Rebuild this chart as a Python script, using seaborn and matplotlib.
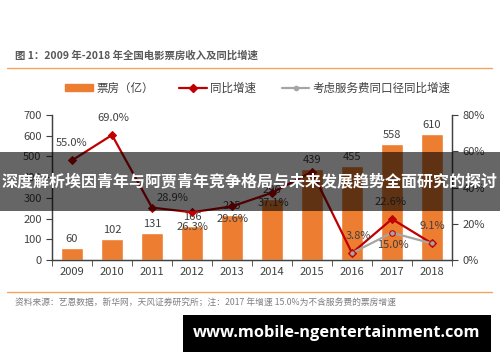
import numpy as np
import pandas as pd
import matplotlib
matplotlib.use('Agg')
import matplotlib.pyplot as plt
import seaborn as sns
from matplotlib.patches import Rectangle, Patch
from matplotlib.lines import Line2D

sns.set_style('white')
plt.rcParams['font.family'] = ['Noto Sans CJK SC', 'DejaVu Sans']

# data
years = ['2009', '2010', '2011', '2012', '2013', '2014', '2015', '2016', '2017', '2018']
box_office = [60, 102, 131, 166, 215, 296, 439, 455, 558, 610]
growth = [55.0, 69.0, 28.9, 26.3, 29.6, 37.1, 48.7, 3.8, 22.6, 9.1]
service_years = ['2016', '2017', '2018']
service_growth = [3.8, 15.0, 9.1]

# label offsets (pixels) for the growth labels, None = label not shown
growth_offsets = [(0, 17), (1, 17), (20, 10), (0, -15), (1, -13), (1, -10), None,
                  (6, 17), (-1, 17), (0, 17)]

orange = '#ED7D31'
red = '#C00000'
gray = '#A5A5A5'
txt = '#404040'

df = pd.DataFrame({'year': years, 'box': box_office, 'growth': growth,
                   'pos': np.arange(len(years))})
sdf = pd.DataFrame({'pos': [years.index(y) for y in service_years],
                    'growth': service_growth})

fig = plt.figure(figsize=(5, 3.62), dpi=100)
ax = fig.add_axes([0.104, 0.282, 0.8, 0.4])

sns.barplot(data=df, x='year', y='box', color=orange, saturation=1, width=0.57, ax=ax)
ax.set_xlim(-0.45, 9.47)
ax.set_ylim(0, 700)
ax.set_yticks(range(0, 701, 100))
ax.set_xlabel('')
ax.set_ylabel('')
ax.set_xticks(np.arange(-0.5, 10, 1), minor=True)
ax.tick_params(axis='x', which='major', length=0, labelsize=8, labelcolor=txt, pad=5)
ax.tick_params(axis='x', which='minor', length=4, direction='out', color=txt, bottom=True)
ax.tick_params(axis='y', length=4, direction='out', color=txt, labelsize=8, labelcolor=txt, left=True)

for i, v in enumerate(box_office):
    ax.annotate(str(v), (i, v), xytext=(0, 4), textcoords='offset pixels',
                ha='center', va='bottom', fontsize=8, color=txt)

ax2 = ax.twinx()
sns.lineplot(data=df, x='pos', y='growth', ax=ax2, color=red, linewidth=1.6,
             marker='D', markersize=4.5, markeredgecolor=red, legend=False)
sns.lineplot(data=sdf, x='pos', y='growth', ax=ax2, color=gray, linewidth=1.6,
             marker='o', markersize=4, markeredgecolor=red, markerfacecolor=gray, legend=False)
ax2.set_ylim(0, 80)
ax2.set_yticks(range(0, 81, 20))
ax2.set_yticklabels([f'{t}%' for t in range(0, 81, 20)])
ax2.set_ylabel('')
ax2.tick_params(axis='y', length=4, direction='out', color=txt, labelsize=8, labelcolor=txt, right=True)

for i, (g, off) in enumerate(zip(growth, growth_offsets)):
    if off is None:
        continue
    ax2.annotate(f'{g:.1f}%', (i, g), xytext=off, textcoords='offset pixels',
                 ha='center', va='center', fontsize=8, color=txt)
ax2.annotate(f'{service_growth[1]:.1f}%', (years.index('2017'), service_growth[1]),
             xytext=(1, -12), textcoords='offset pixels', ha='center', va='center',
             fontsize=8, color=txt)

for a in (ax, ax2):
    a.spines['top'].set_visible(False)
    for s in ('left', 'right', 'bottom'):
        a.spines[s].set_color(txt)
        a.spines[s].set_linewidth(0.9)

# legend
handles = [Patch(color=orange),
           Line2D([], [], color=red, lw=1.6, marker='D', markersize=4),
           Line2D([], [], color=gray, lw=1.6, marker='o', markersize=3)]
labels = ['票房（亿）', '同比增速', '考虑服务费同口径同比增速']
fig.legend(handles, labels, loc='center', bbox_to_anchor=(0.516, 1 - 88 / 362), ncol=3,
           frameon=False, fontsize=8.3, handlelength=2.4, handleheight=0.6,
           handletextpad=0.3, columnspacing=2.2, labelcolor=txt)

# title, separators, source
fig.text(15 / 500, 1 - 55 / 362, '图 1：2009 年-2018 年全国电影票房收入及同比增速',
         fontsize=7.5, fontweight='bold', color='#595959', va='center')
fig.add_artist(Line2D([7 / 500, 492 / 500], [1 - 68 / 362] * 2, color='#F4A460', lw=1))
fig.add_artist(Line2D([7 / 500, 492 / 500], [1 - 292 / 362] * 2, color='#F4A460', lw=1))
fig.text(15 / 500, 1 - 303 / 362,
         '资料来源：艺恩数据，新华网，天风证券研究所；注：2017 年增速 15.0%为不含服务费的票房增速',
         fontsize=6.3, color='#7F7F7F', va='center')

# overlay banner
fig.add_artist(Rectangle((0, 1 - 211 / 362), 1, 59 / 362, transform=fig.transFigure,
                         facecolor='black', alpha=0.6, edgecolor='none', zorder=5))
fig.text(0.5, 1 - 181 / 362, '深度解析埃因青年与阿贾青年竞争格局与未来发展趋势全面研究的探讨',
         fontsize=11.5, fontweight='bold', color='white', ha='center', va='center', zorder=6)

# url box
fig.add_artist(Rectangle((183 / 500, 1 - 352 / 362), 308 / 500, 37 / 362,
                         transform=fig.transFigure, facecolor='black', edgecolor='none', zorder=5))
fig.text(337 / 500, 1 - 333 / 362, 'www.mobile-ngentertainment.com', family='Open Sans',
         fontsize=11.8, fontweight='bold', color='white', ha='center', va='center', zorder=6)

fig.savefig('out.png', dpi=100)
